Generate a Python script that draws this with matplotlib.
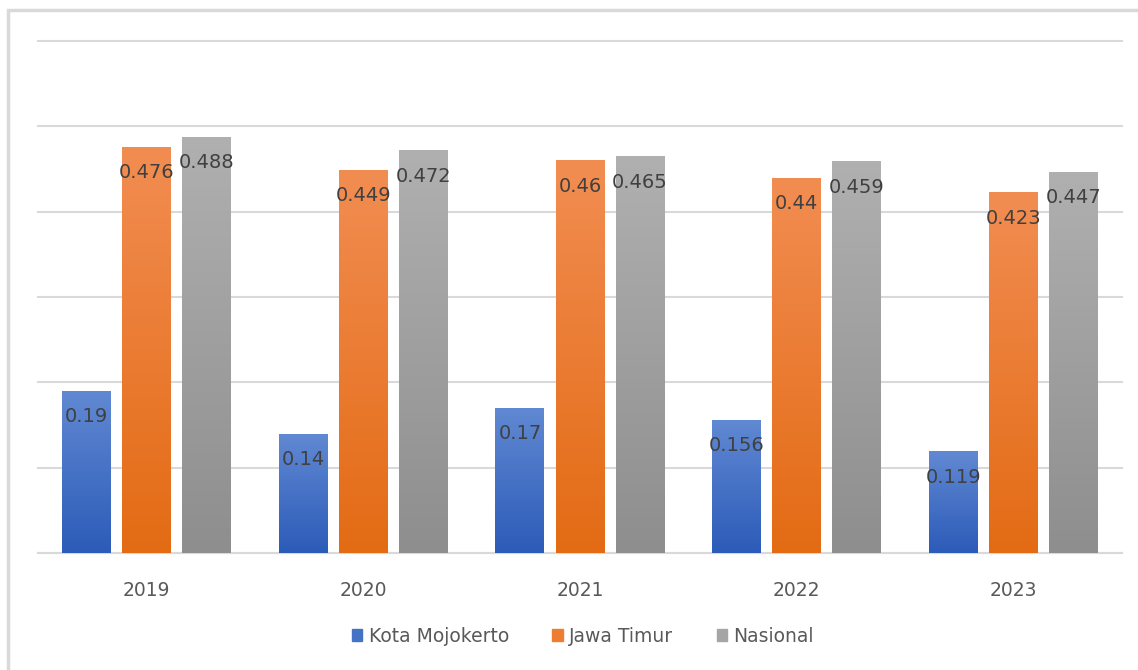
import matplotlib.pyplot as plt
import matplotlib.patheffects as pe
from matplotlib.patches import Rectangle
from matplotlib.colors import LinearSegmentedColormap
import numpy as np

years = ["2019", "2020", "2021", "2022", "2023"]
series = ["Kota Mojokerto", "Jawa Timur", "Nasional"]
kota = [0.19, 0.14, 0.17, 0.156, 0.119]
jatim = [0.476, 0.449, 0.46, 0.44, 0.423]
nasional = [0.488, 0.472, 0.465, 0.459, 0.447]
values = [kota, jatim, nasional]
# top / bottom colors of each gradient
grads = [("#6189d3", "#2c5bb8"), ("#f28d52", "#e36b14"), ("#b0b0b0", "#8e8e8e")]
solid = ["#4472c4", "#ed7d31", "#a5a5a5"]

plt.rcParams['font.family'] = ['DejaVu Sans']

fig = plt.figure(figsize=(11.38, 6.70), dpi=100)
ax = fig.add_axes([38 / 1138, 117 / 670, 1084 / 1138, 512 / 670])
# outer chart border (only left and top visible in the crop)
fig.patches.append(Rectangle((8 / 1138, -0.1), 1.2, 1.1 - 10 / 670, transform=fig.transFigure,
                             fill=False, edgecolor="#d9d9d9", linewidth=2.5))

x = np.arange(len(years))
w = 0.226
step = 0.277
ax.set_xlim(-0.5, len(years) - 0.5)
ax.set_ylim(0, 0.6)

grad = np.linspace(1, 0, 256).reshape(-1, 1)
for i, vals in enumerate(values):
    bars = ax.bar(x + (i - 1) * step, vals, w, color=solid[i], zorder=2,
                  path_effects=[pe.SimplePatchShadow(offset=(0, 0), shadow_rgbFace="#000000", alpha=0.12),
                                pe.Normal()])
    cmap = LinearSegmentedColormap.from_list("g%d" % i, [grads[i][1], grads[i][0]])
    for b, v in zip(bars, vals):
        im = ax.imshow(grad, cmap=cmap, aspect="auto", zorder=3,
                       extent=[b.get_x(), b.get_x() + b.get_width(), 0, v], vmin=0, vmax=1)
        im.set_clip_path(b)
        ax.annotate(f"{v:g}", (b.get_x() + b.get_width() / 2, v), xytext=(0, -26),
                    textcoords="offset pixels",
                    ha="center", va="center", fontsize=14, color="#404040", zorder=4)

ax.set_xticks(x)
ax.set_xticklabels(years, fontsize=13.5, color="#595959")
ax.set_yticks(np.arange(0, 0.61, 0.1))
ax.set_yticklabels([])
ax.tick_params(axis="both", length=0)
ax.tick_params(axis="x", pad=20)
ax.grid(axis="y", color="#d9d9d9", linewidth=1.5, zorder=0)
for gl in ax.get_ygridlines():
    gl.set_clip_on(False)
ax.set_axisbelow(True)
for s in ["top", "right", "left"]:
    ax.spines[s].set_visible(False)
ax.spines["bottom"].set_color("#d9d9d9")
ax.spines["bottom"].set_linewidth(1.5)

handles = [Rectangle((0, 0), 1, 1, color=c) for c in solid]
fig.legend(handles, series, loc="center", bbox_to_anchor=(583 / 1138, 1 - 636 / 670), ncol=3,
           frameon=False, fontsize=13.5, handlelength=0.55, handleheight=0.55, columnspacing=2.3,
           handletextpad=0.35, labelcolor="#595959")

fig.savefig("out.png", dpi=100)
